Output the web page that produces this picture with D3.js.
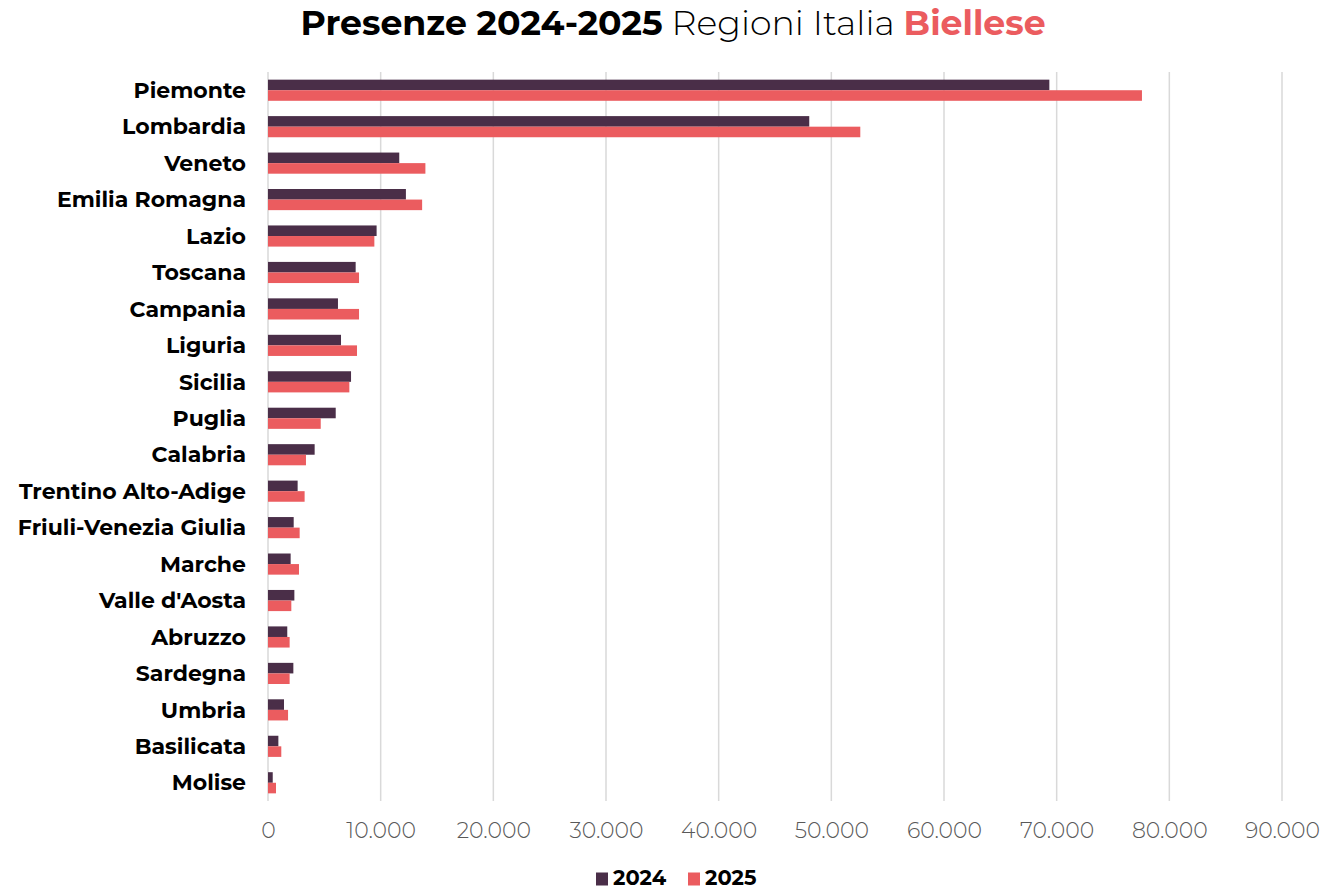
<!DOCTYPE html>
<html>
<head>
<meta charset="utf-8">
<script src="https://cdn.jsdelivr.net/npm/d3@7"></script>
<style>
  html, body { margin: 0; padding: 0; background: #ffffff; }
  svg { display: block; }
</style>
</head>
<body>
<svg id="chart" width="1340" height="890"></svg>
<script>
const categories = ["Piemonte","Lombardia","Veneto","Emilia Romagna","Lazio","Toscana","Campania","Liguria","Sicilia","Puglia","Calabria","Trentino Alto-Adige","Friuli-Venezia Giulia","Marche","Valle d'Aosta","Abruzzo","Sardegna","Umbria","Basilicata","Molise"];
const values2024 = [69350,48040,11650,12240,9640,7780,6210,6480,7370,6010,4140,2630,2280,2010,2340,1710,2250,1420,920,420];
const values2025 = [77570,52570,13970,13680,9440,8080,8080,7900,7220,4680,3370,3250,2810,2750,2070,1920,1920,1780,1180,710];
const seriesNames = ["2024","2025"];
const tickValues = [0,10000,20000,30000,40000,50000,60000,70000,80000,90000];

const colors = {"2024": "#4a2e48", "2025": "#eb5c5f"};
const FONT = "Montserrat, 'DejaVu Sans', sans-serif";

const svg = d3.select("#chart");
const margin = {left: 268, right: 58, top: 72, bottom: 89};
const W = 1340, H = 890;

const x = d3.scaleLinear().domain([0, 90000]).range([margin.left, W - margin.right]);
const y = d3.scaleBand().domain(categories).range([margin.top, H - margin.bottom]).paddingInner(0.42).paddingOuter(0.21);
const ySub = d3.scaleBand().domain(seriesNames).range([0, y.bandwidth()]);

// gridlines
svg.append("g").selectAll("line").data(tickValues).join("line")
  .attr("x1", d => x(d)).attr("x2", d => x(d))
  .attr("y1", margin.top).attr("y2", H - margin.bottom)
  .attr("stroke", "#d9d9d9").attr("stroke-width", 1.5);

// bars
const rows = categories.map((c, i) => ({cat: c, vals: [{s: "2024", v: values2024[i]}, {s: "2025", v: values2025[i]}]}));
const g = svg.append("g").selectAll("g").data(rows).join("g")
  .attr("transform", d => `translate(0,${y(d.cat)})`);
g.selectAll("rect").data(d => d.vals).join("rect")
  .attr("x", x(0)).attr("y", d => ySub(d.s))
  .attr("width", d => x(d.v) - x(0)).attr("height", ySub.bandwidth())
  .attr("fill", d => colors[d.s]);

// x axis labels
const xAxis = d3.axisBottom(x).tickValues(tickValues).tickSize(0).tickPadding(0)
  .tickFormat(d => d3.format(",")(d).replace(/,/g, "."));
const xa = svg.append("g").attr("transform", `translate(0,${H - margin.bottom})`).call(xAxis);
xa.select(".domain").remove();
xa.selectAll("text").attr("y", 21).attr("font-family", FONT).attr("font-size", 22)
  .attr("font-weight", 300).attr("fill", "#595959");

// y axis labels
const yAxis = d3.axisLeft(y).tickSize(0).tickPadding(0);
const ya = svg.append("g").attr("transform", `translate(${margin.left - 22},0)`).call(yAxis);
ya.select(".domain").remove();
ya.selectAll("text").attr("font-family", FONT).attr("font-size", 22)
  .attr("font-weight", "bold").attr("fill", "#000").attr("dy", "0.35em");

// title
const title = svg.append("text").attr("x", W / 2 + 3).attr("y", 35).attr("text-anchor", "middle")
  .attr("font-family", FONT).attr("font-size", 34.7).attr("fill", "#000");
title.append("tspan").attr("font-weight", "bold").text("Presenze 2024-2025");
title.append("tspan").attr("font-weight", 300).text(" Regioni Italia ");
title.append("tspan").attr("font-weight", "bold").attr("fill", "#eb5c5f").text("Biellese");

// legend
const legend = svg.append("g").attr("transform", `translate(596,878)`);
const li = legend.selectAll("g").data(seriesNames).join("g")
  .attr("transform", (d, i) => `translate(${i * 92},0)`);
li.append("rect").attr("x", 0).attr("y", -5.5).attr("width", 12).attr("height", 13).attr("fill", d => colors[d]);
li.append("text").attr("x", 17).attr("dy", "0.35em").attr("font-family", FONT).attr("font-size", 21)
  .attr("font-weight", "bold").attr("fill", "#000").text(d => d);
</script>
</body>
</html>
